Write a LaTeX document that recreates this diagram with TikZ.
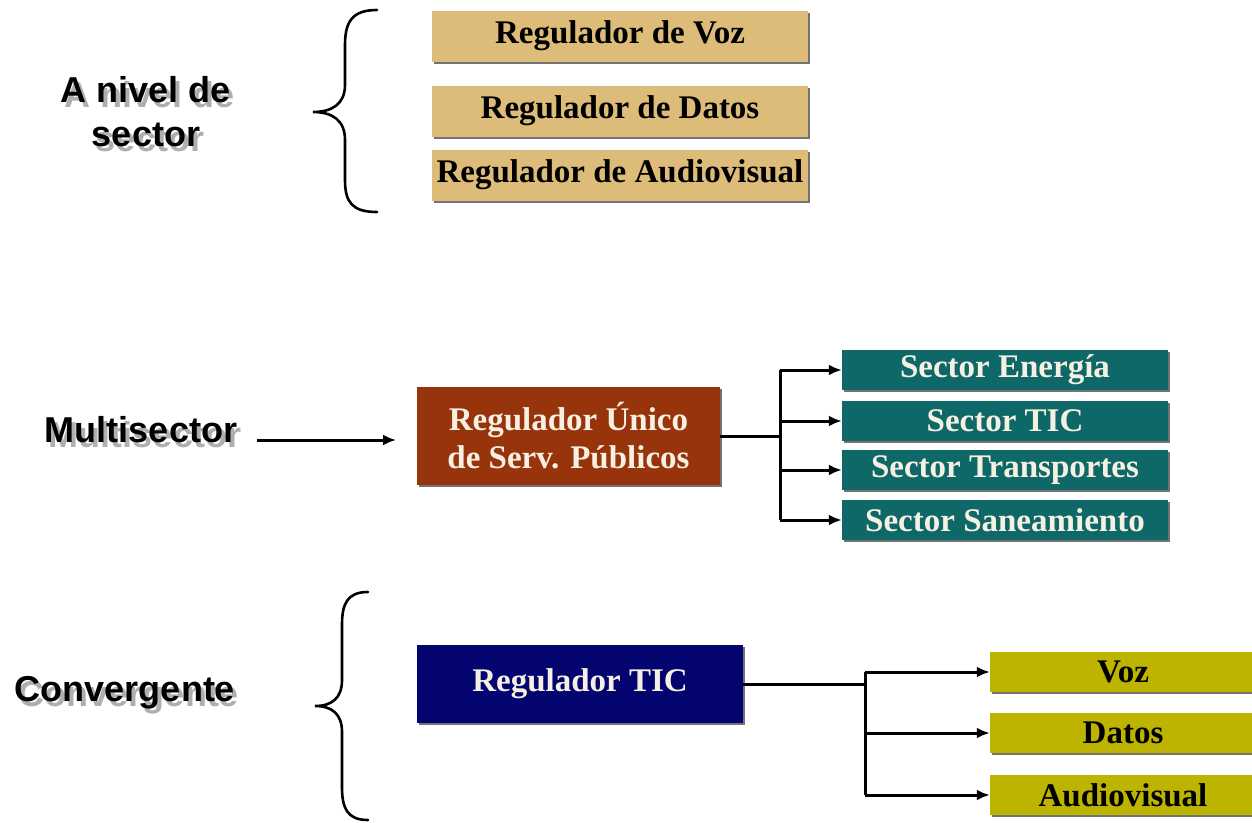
\documentclass[tikz,border=0pt]{standalone}
\usepackage{fontspec}
\setmainfont{Liberation Serif}
\setsansfont{Liberation Sans}
\usetikzlibrary{arrows.meta,shadows}
\definecolor{tanc}{RGB}{221,187,120}
\definecolor{brownc}{RGB}{152,52,12}
\definecolor{tealc}{RGB}{14,104,104}
\definecolor{navyc}{RGB}{4,4,112}
\definecolor{olivec}{RGB}{189,180,0}
\definecolor{creamc}{RGB}{246,240,226}
\definecolor{shadowc}{RGB}{175,175,175}
\tikzset{
  boxbase/.style={inner sep=0pt, font=\bfseries\fontsize{33}{38}\selectfont,
    general shadow={fill=black!55, shadow xshift=2pt, shadow yshift=-2pt}},
  tanbox/.style={boxbase, fill=tanc, text=black, minimum width=376pt, minimum height=51pt},
  brownbox/.style={boxbase, fill=brownc, text=creamc, minimum width=303pt, minimum height=98pt, align=center},
  tealbox/.style={boxbase, fill=tealc, text=creamc, minimum width=326pt, minimum height=40pt},
  navybox/.style={boxbase, fill=navyc, text=creamc, minimum width=326pt, minimum height=78pt},
  olivebox/.style={boxbase, fill=olivec, text=black, minimum width=266pt, minimum height=40pt},
  lbl/.style={font=\sffamily\bfseries\fontsize{36}{44}\selectfont, align=center, inner sep=0pt},
  lblshadow/.style={lbl, text=shadowc},
  conn/.style={line width=3pt, draw=black},
  arr/.style={conn, -{Latex[length=13pt,width=11pt]}},
  bracec/.style={line width=2.6pt, draw=black, line cap=round}
}
\begin{document}
\begin{tikzpicture}[x=1pt,y=-1pt]
\useasboundingbox (0,0) rectangle (1252,822);
\clip (0,0) rectangle (1252,822);

% left labels with shadows
\node[lblshadow] (s1) at (150,117) {A nivel de\\sector};
\node[lbl] (l1) at (146,112) {A nivel de\\sector};
\node[lblshadow] (s2) at (145,435) {Multisector};
\node[lbl] (l2) at (141,430) {Multisector};
\node[lblshadow] (s3) at (129,698) {Convergente};
\node[lbl] (l3) at (125,693) {Convergente};

% braces
\draw[bracec] (377,10) .. controls (352,10) and (345,22) .. (345,45) -- (345,85)
  .. controls (345,104) and (332,112) .. (313,112)
  .. controls (332,112) and (345,120) .. (345,140) -- (345,180)
  .. controls (345,202) and (352,212) .. (377,212);
\draw[bracec] (368,592) .. controls (347,592) and (342,604) .. (342,625) -- (342,680)
  .. controls (342,698) and (332,706) .. (315,706)
  .. controls (332,706) and (342,714) .. (342,732) -- (342,787)
  .. controls (342,808) and (347,820) .. (368,820);

% top group
\node[tanbox] (rv) at (620,36) {Regulador de Voz};
\node[tanbox] (rd) at (620,111) {Regulador de Datos};
\node[tanbox] (ra) at (620,175) {Regulador de Audiovisual};

% multisector group
\node[brownbox] (ru) at (568.5,436) {Regulador Único\\de Serv. Públicos};
\node[tealbox] (se) at (1005,370) {Sector Energía};
\node[tealbox] (st) at (1005,421) {Sector TIC};
\node[tealbox] (sr) at (1005,470) {Sector Transportes};
\node[tealbox] (ss) at (1005,520) {Sector Saneamiento};

\coordinate (msa) at (257,440);
\coordinate (msb) at (396,440);
\draw[arr] (msa) -- (msb);

\coordinate (j1) at (780,436);
\draw[conn] (ru.east |- j1) -- (j1);
\draw[conn] (780,370) -- (780,520);
\draw[arr] (780,370) -- (se.west);
\draw[arr] (780,421) -- (st.west);
\draw[arr] (780,470) -- (sr.west);
\draw[arr] (780,520) -- (ss.west);

% convergent group
\node[navybox] (rt) at (580,684) {Regulador TIC};
\node[olivebox] (ov) at (1123,672) {Voz};
\node[olivebox] (od) at (1123,733) {Datos};
\node[olivebox] (oa) at (1123,795) {Audiovisual};

\coordinate (j2) at (865,684);
\draw[conn] (rt.east) -- (j2);
\draw[conn] (865,672) -- (865,795);
\draw[arr] (865,672) -- (ov.west);
\draw[arr] (865,733) -- (od.west);
\draw[arr] (865,795) -- (oa.west);
\end{tikzpicture}
\end{document}
